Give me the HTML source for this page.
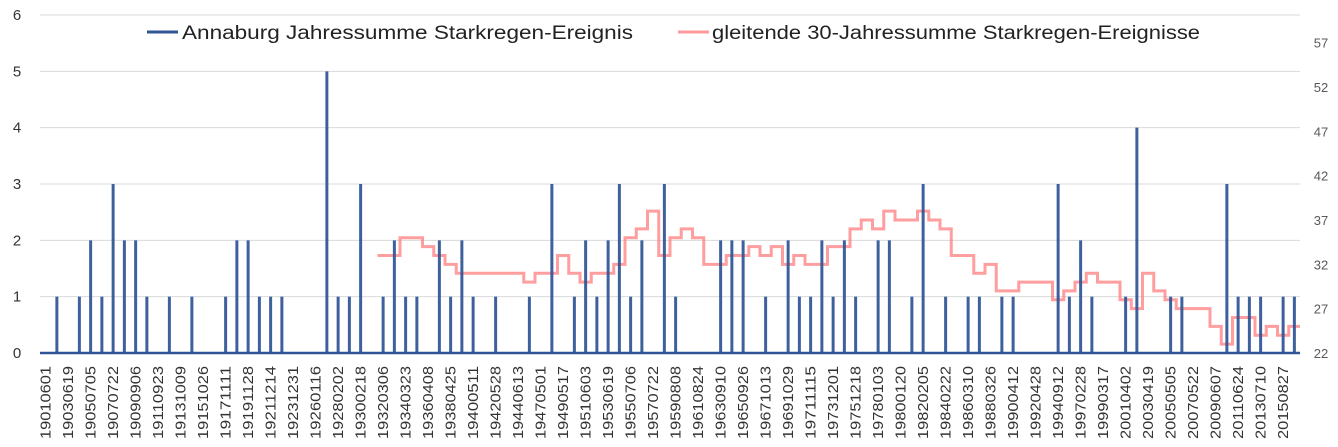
<!DOCTYPE html>
<html><head><meta charset="utf-8"><style>
body{margin:0;background:#fff;}
svg{display:block;font-family:"Liberation Sans",sans-serif;}
</style></head><body>
<svg id="chart" width="1338" height="447"></svg>
<script>
const N = 112;
const labelYears = [19010601,19030619,19050705,19070722,19090906,19110923,19131009,19151026,19171111,19191128,19211214,19231231,19260116,19280202,19300218,19320306,19340323,19360408,19380425,19400511,19420528,19440613,19470501,19490517,19510603,19530619,19550706,19570722,19590808,19610824,19630910,19650926,19671013,19691029,19711115,19731201,19751218,19780103,19800120,19820205,19840222,19860310,19880326,19900412,19920428,19940912,19970228,19990317,20010402,20030419,20050505,20070522,20090607,20110624,20130710,20150827];
const eventIdx = [1,3,4,5,6,7,8,9,11,13,16,17,18,19,20,21,25,26,27,28,30,31,32,33,35,36,37,38,40,43,45,47,48,49,50,51,52,53,55,56,60,61,62,64,66,67,68,69,70,71,72,74,75,77,78,80,82,83,85,86,90,91,92,93,96,97,100,101,105,106,107,108,110,111];
const eventVal = [1,1,2,1,3,2,2,1,1,1,1,2,2,1,1,1,5,1,1,3,1,2,1,1,2,1,2,1,1,1,3,1,2,1,2,3,1,2,3,1,2,2,2,1,2,1,1,2,1,2,1,2,2,1,3,1,1,1,1,1,3,1,2,1,1,4,1,1,3,1,1,1,1,1];
const movStart = 30;
const movVal = [33,33,35,35,34,33,32,31,31,31,31,31,31,30,31,31,33,31,30,31,31,32,35,36,38,33,35,36,35,32,32,33,33,34,33,34,32,33,32,32,34,34,36,37,36,38,37,37,38,37,36,33,33,31,32,29,29,30,30,30,28,29,30,31,30,30,28,27,31,29,28,27,27,27,25,23,26,26,24,25,24,25];
const leftTicks = [0,1,2,3,4,5,6];
const rightTicks = [22,27,32,37,42,47,52,57];

const svg = document.getElementById('chart');
const NS = 'http://www.w3.org/2000/svg';
const X0 = 40, X1 = 1300, Y0 = 353, Y6 = 15;
const cw = (X1 - X0) / N;
function xc(i){ return X0 + (i + 0.5) * cw; }
function xl(i){ return X0 + i * cw; }
function yL(v){ return Y0 - v * (Y0 - Y6) / 6; }
function yR(v){ return Y0 - (v - 22) * 8.867; }
function mk(tag, attrs, parent){
  const e = document.createElementNS(NS, tag);
  for (const k in attrs) e.setAttribute(k, attrs[k]);
  (parent || svg).appendChild(e);
  return e;
}

leftTicks.forEach(v => {
  const g = mk('line', {x1:X0, x2:X1, y1:yL(v), y2:yL(v), stroke:'#d9d9d9', 'stroke-width':1});
  
  
  const t = mk('text', {x:17, y:yL(v)+5, 'text-anchor':'middle', 'font-size':15, fill:'#333'});
  t.textContent = v;
  
  
});
rightTicks.forEach(v => {
  const t = mk('text', {x:1321, y:yR(v)+5, 'text-anchor':'middle', 'font-size':13, fill:'#595959'});
  t.textContent = v;
  
  
});

// pink step line
let d = '';
movVal.forEach((v, k) => {
  const i = movStart + k;
  d += (k === 0 ? 'M' : 'L') + xl(i) + ',' + yR(v) + 'L' + xl(i+1) + ',' + yR(v);
});
const pl = mk('path', {d:d, fill:'none', stroke:'rgba(255,120,120,0.72)', 'stroke-width':3});



// blue bars
eventIdx.forEach((i, k) => {
  const b = mk('line', {x1:xc(i), x2:xc(i), y1:Y0, y2:yL(eventVal[k]), stroke:'rgba(47,85,151,0.93)', 'stroke-width':3});
  
  
});
const base = mk('line', {x1:X0, x2:X1, y1:Y0, y2:Y0, stroke:'#2f5597', 'stroke-width':2.5});



// x labels
labelYears.forEach((lab, k) => {
  const x = xc(k * 2) + 5;
  const t = mk('text', {x:0, y:0, transform:'translate(' + x + ',366) rotate(-90)', 'text-anchor':'end', 'font-size':15, fill:'#333', textLength:73, lengthAdjust:'spacingAndGlyphs'});
  t.textContent = lab;
  
  
});

// legend
const lg = mk('g', {});


const l1 = mk('line', {x1:147, x2:178, y1:32, y2:32, stroke:'#2f5597', 'stroke-width':3}, lg);


const t1 = mk('text', {x:182, y:39, 'font-size':19, fill:'#222', textLength:451, lengthAdjust:'spacingAndGlyphs'}, lg);
t1.textContent = 'Annaburg Jahressumme Starkregen-Ereignis';


const l2 = mk('line', {x1:678, x2:709, y1:32, y2:32, stroke:'#ff9a9a', 'stroke-width':3}, lg);


const t2 = mk('text', {x:712, y:39, 'font-size':19, fill:'#222', textLength:488, lengthAdjust:'spacingAndGlyphs'}, lg);
t2.textContent = 'gleitende 30-Jahressumme Starkregen-Ereignisse';


</script>
</body></html>
